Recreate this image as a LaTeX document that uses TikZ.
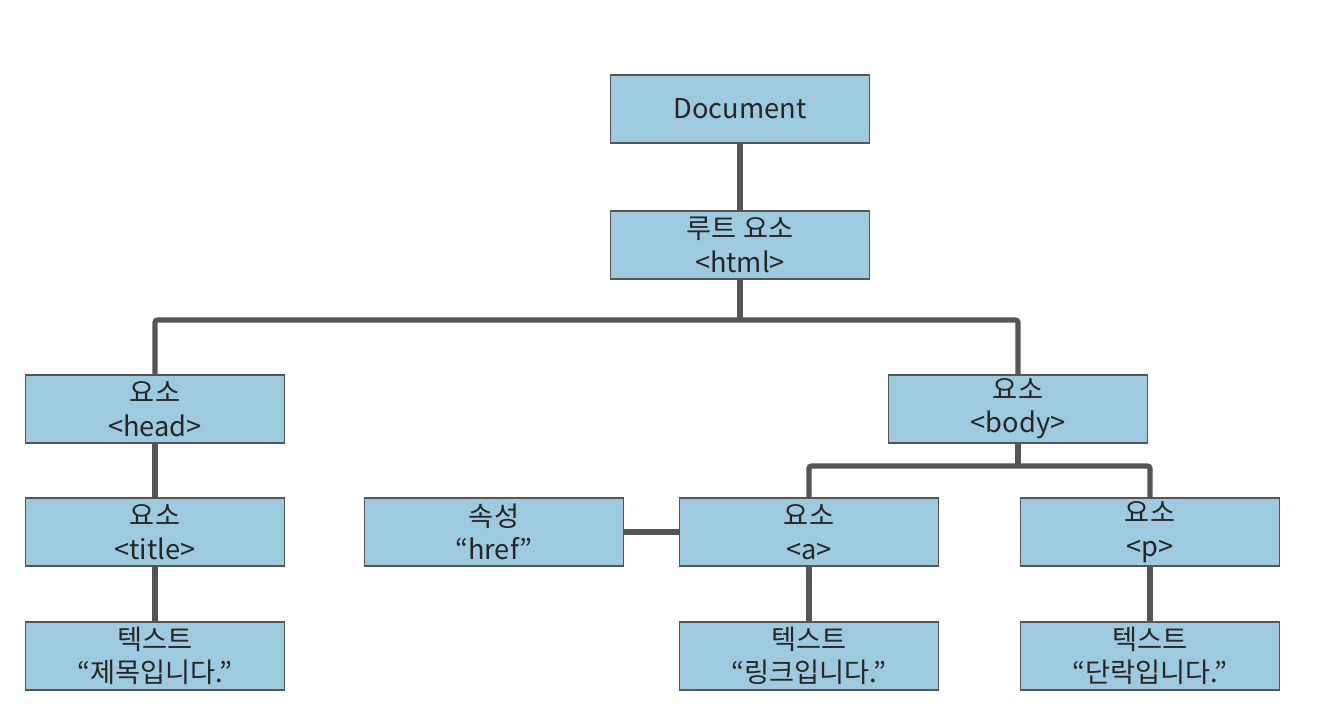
\documentclass[tikz,border=0pt]{standalone}
\usepackage{fontspec}
\setmainfont{Noto Sans CJK KR}
\usetikzlibrary{positioning}
\definecolor{boxblue}{HTML}{9DCADF}
\definecolor{linegray}{HTML}{555555}

\begin{document}
\begin{tikzpicture}[font=\fontsize{15.5}{19}\selectfont,
  nodebox/.style = {draw=linegray, line width=0.8pt, minimum width=51.8mm, minimum height=13.6mm, inner sep=0pt, align=center, fill=boxblue, text=black!85},
  link/.style = {draw=linegray, line width=3pt, rounded corners=1.5pt}
]
\useasboundingbox (0,0) rectangle (267.6mm,-145.6mm);
\node[nodebox] (doc) at (148mm,-21.8mm) {Document};
\node[nodebox] (html) at (148mm,-49mm) {루트 요소\\<html>};
\node[nodebox] (head) at (31mm,-81.8mm) {요소\\<head>};
\node[nodebox] (body) at (203.6mm,-81.8mm) {요소\\<body>};
\node[nodebox] (title) at (31mm,-106.4mm) {요소\\<title>};
\node[nodebox] (title_text) at (31mm,-131.2mm) {텍스트\\“제목입니다.”};
\node[nodebox] (href) at (98.8mm,-106.4mm) {속성\\“href”};
\node[nodebox] (a_tag) at (161.8mm,-106.4mm) {요소\\<a>};
\node[nodebox] (p_tag) at (230mm,-106.4mm) {요소\\<p>};
\node[nodebox] (a_text) at (161.8mm,-131.2mm) {텍스트\\“링크입니다.”};
\node[nodebox] (p_text) at (230mm,-131.2mm) {텍스트\\“단락입니다.”};
\coordinate (html_bus) at (148mm,-64mm);
\coordinate (body_bus) at (203.6mm,-93.2mm);
\draw[link] (doc) -- (html);
\draw[link] (html) -- (html_bus);
\draw[link] (head.north) |- (html_bus) -| (body.north);
\draw[link] (head) -- (title);
\draw[link] (title) -- (title_text);
\draw[link] (body) -- (body_bus);
\draw[link] (a_tag.north) |- (body_bus) -| (p_tag.north);
\draw[link] (href) -- (a_tag);
\draw[link] (a_tag) -- (a_text);
\draw[link] (p_tag) -- (p_text);
\end{tikzpicture}
\end{document}
